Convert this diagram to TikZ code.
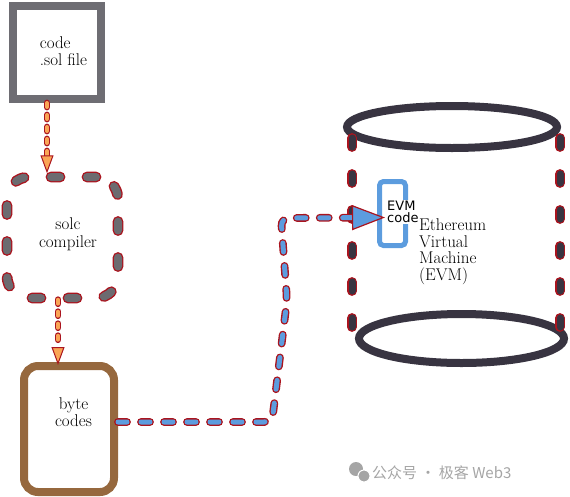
\documentclass[tikz,border=0pt]{standalone}
\usepackage{fontspec}
\newfontfamily\cjk{Noto Sans CJK SC}
\newfontfamily\dejavu{DejaVu Sans}
\usetikzlibrary{arrows.meta, positioning}
\definecolor{boxgray}{RGB}{110,109,115}
\definecolor{dashgray}{RGB}{108,107,112}
\definecolor{outred}{RGB}{170,20,30}
\definecolor{flowor}{RGB}{250,165,85}
\definecolor{bytebrown}{RGB}{150,104,62}
\definecolor{flowblue}{RGB}{92,156,222}
\definecolor{cyldark}{RGB}{56,52,65}
\definecolor{wmgray}{RGB}{165,165,165}
\tikzset{
    lbl/.style={align=center, font=\fontsize{17}{17.5}\selectfont},
    outlined/.style={draw=outred, double=#1, line width=1.4pt, line cap=round},
    bigdash/.style={outlined=#1, double distance=8pt, dash pattern=on 9pt off 27pt},
    oflow/.style={outlined=flowor, double distance=4pt, dash pattern=on 4pt off 8pt,
        -{Triangle[length=18pt,width=13pt,fill=flowor,color=outred,line width=1pt]}},
    bflow/.style={outlined=flowblue, double distance=5pt, dash pattern=on 9pt off 14pt,
        rounded corners=8pt,
        -{Triangle[length=33pt,width=25pt,fill=flowblue,color=outred,line width=1.2pt]}},
}
\begin{document}
\begin{tikzpicture}[x=1pt, y=-1pt]
\useasboundingbox (0,0) rectangle (570,496);
% left column
\node[draw=boxgray, line width=8pt, minimum width=88pt, minimum height=93.5pt,
    label={[lbl, align=left, xshift=7pt, yshift=1pt]center:{code\\ .sol file}}] (code) at (56.5,52.25) {};
\node[bigdash=dashgray, rounded corners=22pt, minimum width=111pt, minimum height=121pt,
    label={[lbl, xshift=5.5pt, yshift=3pt]center:{solc\\compiler}}] (solc) at (62.5,237.5) {};
\node[draw=bytebrown, line width=8pt, rounded corners=14pt, minimum width=90pt, minimum height=126pt,
    label={[lbl, xshift=4.5pt, yshift=17pt]center:{byte\\codes}}] (byte) at (69,429) {};
% cylinder
\draw[cyldark, line width=8pt] (452,127) ellipse [x radius=105pt, y radius=21pt];
\draw[cyldark, line width=8pt] (461.5,338.5) ellipse [x radius=102.5pt, y radius=24.5pt];
\draw[bigdash=cyldark, double distance=7pt] (352,138) -- (352,328);
\draw[bigdash=cyldark, double distance=7pt] (560,138) -- (560,328);
\node[draw=flowblue, line width=5pt, rounded corners=4pt, minimum width=26pt, minimum height=64pt] (evmcode) at (392.5,213.5) {};
\node[font=\dejavu\fontsize{13}{11.5}\selectfont, align=left, fill=white, inner sep=1pt, anchor=west] (evmtxt) at (386,212) {EVM\\code};
\node[font=\fontsize{17}{16.7}\selectfont, align=left, inner sep=0pt, anchor=north west] (evm) at (419,218.5) {Ethereum\\Virtual\\Machine\\(EVM)};
\coordinate (tip) at (385,217.5);
% connectors
\draw[oflow] ([xshift=-9.5pt]code.south) -- ([xshift=-15.5pt, yshift=3pt]solc.north);
\draw[oflow] ([xshift=-4.5pt, yshift=-1pt]solc.south) -- ([xshift=-11pt, yshift=-3pt]byte.north);
\draw[bflow] ([yshift=7pt]byte.east) -- (272,422) -- (287,300) -- (281,218) -- (tip);
% watermark
\fill[wmgray] (356,469) circle (7pt);
\fill[wmgray, draw=white, line width=1pt] (364,476) circle (6pt);
\node[font=\cjk\fontsize{15}{15}\selectfont, text=wmgray, anchor=west, inner sep=0pt] (wm) at (372,473) {公众号 · 极客 Web3};
\end{tikzpicture}
\end{document}
